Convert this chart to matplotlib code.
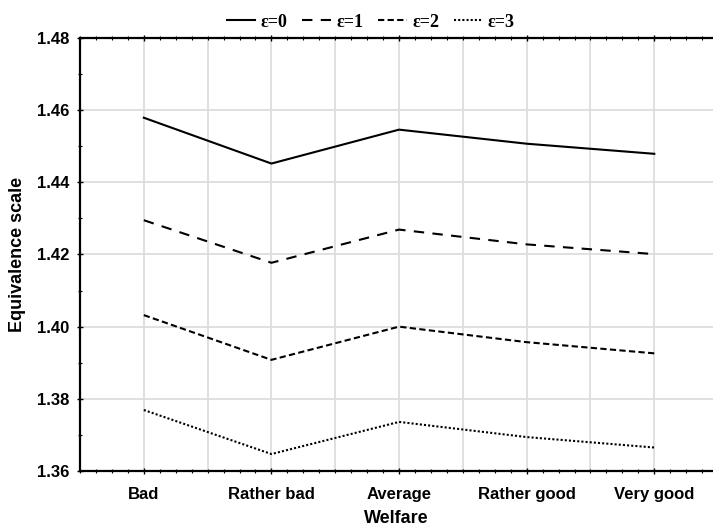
import numpy as np
import matplotlib.pyplot as plt
from matplotlib.ticker import MultipleLocator, FixedLocator

categories = ['Bad', 'Rather bad', 'Average', 'Rather good', 'Very good']
eps0 = [1.4579, 1.4452, 1.4546, 1.4507, 1.4479]
eps1 = [1.4295, 1.4177, 1.4269, 1.4228, 1.4201]
eps2 = [1.4032, 1.3908, 1.4000, 1.3957, 1.3926]
eps3 = [1.3769, 1.3647, 1.3736, 1.3694, 1.3665]
labels = ['ε=0', 'ε=1', 'ε=2', 'ε=3']

plt.rcParams['font.family'] = ['Liberation Sans', 'DejaVu Sans']

fig = plt.figure(figsize=(7.13, 5.32), dpi=100)
ax = fig.add_axes([0.1122, 0.1147, 0.8878, 0.8139])

x = np.arange(len(categories))
styles = ['-', (0, (5, 4)), (0, (3, 1.6)), (0, (1, 1))]
for vals, ls, lab in zip([eps0, eps1, eps2, eps3], styles, labels):
    ax.plot(x, vals, color='black', linestyle=ls, linewidth=1.5, label=lab)

ax.set_xlim(-0.5, 4.46)
ax.set_ylim(1.36, 1.48)

ax.set_xticks(x)
ax.set_xticklabels(categories, fontweight='bold', fontsize=12)
ax.xaxis.set_minor_locator(FixedLocator(np.arange(-0.5, 4.5, 0.125)))
ax.set_yticks(np.arange(1.36, 1.481, 0.02))
ax.set_yticklabels(['%.2f' % v for v in np.arange(1.36, 1.481, 0.02)],
                   fontweight='bold', fontsize=12)
ax.yaxis.set_minor_locator(MultipleLocator(0.01))

# vertical grid at every half category
for gx in np.arange(0, 4.6, 0.5):
    ax.axvline(gx, color='#dddddd', linewidth=1.3, zorder=0)
ax.grid(axis='y', color='#dddddd', linewidth=1.3, zorder=0)
ax.set_axisbelow(True)

ax.tick_params(axis='both', which='major', direction='inout', length=5, width=1,
               top=True, right=False)
ax.tick_params(axis='both', which='minor', direction='inout', length=3, width=0.8,
               top=True, right=False)
ax.tick_params(axis='x', which='major', pad=9)
ax.tick_params(axis='y', which='major', pad=5)

ax.spines['right'].set_visible(False)
for s in ['left', 'top', 'bottom']:
    ax.spines[s].set_linewidth(1.6)

ax.set_xlabel('Welfare', fontweight='bold', fontsize=13, labelpad=6)
ax.set_ylabel('Equivalence scale', fontweight='bold', fontsize=13, labelpad=8)

fig.legend(loc='upper center', bbox_to_anchor=(0.52, 1.005), ncol=4, frameon=False,
           handlelength=1.6, handletextpad=0.3, columnspacing=0.8,
           prop={'family': 'Liberation Serif', 'weight': 'bold', 'size': 13})

fig.savefig('out.png', dpi=100)
